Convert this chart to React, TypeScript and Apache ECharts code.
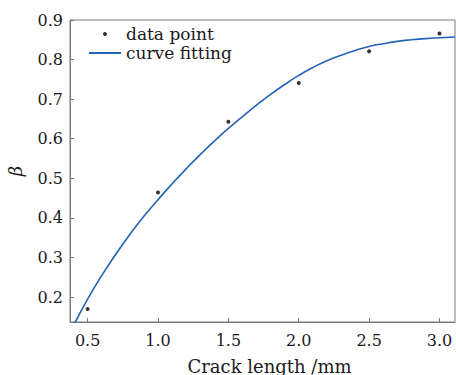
import React, { useEffect, useRef } from "react";
import * as echarts from "echarts";

// Measured data points
const pointX = [0.5, 1.0, 1.5, 2.0, 2.5, 3.0];
const pointY = [0.17, 0.464, 0.643, 0.741, 0.821, 0.866];

// Fitted curve
const curveX = [0.4, 0.5, 0.6, 0.7, 0.8, 0.9, 1.0, 1.1, 1.2, 1.3, 1.4, 1.5, 1.6, 1.7, 1.8, 1.9, 2.0, 2.1, 2.2, 2.3, 2.4, 2.5, 2.6, 2.7, 2.8, 2.9, 3.0, 3.11];
const curveY = [0.128, 0.195, 0.254, 0.308, 0.358, 0.404, 0.446, 0.486, 0.524, 0.56, 0.594, 0.626, 0.656, 0.685, 0.712, 0.737, 0.76, 0.78, 0.797, 0.811, 0.823, 0.833, 0.84, 0.846, 0.85, 0.853, 0.855, 0.857];

const seriesNames = ["data point", "curve fitting"];
const xAxisTitle = "Crack length /mm";
const yAxisTitle = "β";

const FONT = "DejaVu Serif";
const AXIS_COLOR = "#7a7a7a";
const TEXT_COLOR = "#1a1a1a";
const CURVE_COLOR = "#2462b8";

export default function App() {
  const ref = useRef<HTMLDivElement>(null);
  useEffect(() => {
    if (!ref.current) return;
    const chart = echarts.init(ref.current, undefined, { renderer: "svg" });
    chart.setOption({
      animation: false,
      backgroundColor: "#ffffff",
      grid: {
        left: 70,
        top: 20,
        right: 1,
        bottom: 53,
        outerBoundsMode: "none",
        containLabel: false,
        show: true,
        borderColor: AXIS_COLOR,
        borderWidth: 1,
        backgroundColor: "transparent",
      },
      legend: {
        orient: "vertical",
        left: 88,
        top: 25,
        padding: 0,
        itemWidth: 32,
        itemHeight: 4,
        itemGap: 1,
        textStyle: { fontFamily: FONT, fontSize: 17, color: TEXT_COLOR, lineHeight: 18 },
        data: [
          { name: seriesNames[0] },
          { name: seriesNames[1], itemStyle: { opacity: 0 } },
        ],
      },
      xAxis: {
        type: "value",
        min: 0.375,
        max: 3.11,
        splitNumber: 6,
        name: xAxisTitle,
        nameLocation: "middle",
        nameGap: 35,
        nameTextStyle: { fontFamily: FONT, fontSize: 18, color: TEXT_COLOR, padding: [0, 0, 0, 14] },
        axisLine: { show: true, lineStyle: { color: AXIS_COLOR, width: 1 } },
        axisTick: { show: true, inside: true, length: 4, lineStyle: { color: AXIS_COLOR } },
        axisLabel: {
          margin: 10,
          fontFamily: FONT,
          fontSize: 16,
          color: TEXT_COLOR,
          showMinLabel: false,
          showMaxLabel: false,
          formatter: (v: number) => v.toFixed(1),
        },
        splitLine: { show: false },
      },
      yAxis: {
        type: "value",
        min: 0.137,
        max: 0.9,
        splitNumber: 8,
        name: yAxisTitle,
        nameLocation: "middle",
        nameGap: 46,
        nameRotate: 90,
        nameTextStyle: { fontFamily: FONT, fontSize: 18, fontStyle: "italic", color: TEXT_COLOR },
        axisLine: { show: true, lineStyle: { color: AXIS_COLOR, width: 1 } },
        axisTick: { show: true, inside: true, length: 4, lineStyle: { color: AXIS_COLOR } },
        axisLabel: {
          margin: 7,
          fontFamily: FONT,
          fontSize: 16,
          color: TEXT_COLOR,
          showMinLabel: false,
          formatter: (v: number) => v.toFixed(1),
        },
        splitLine: { show: false },
      },
      series: [
        {
          name: seriesNames[0],
          type: "scatter",
          symbol: "circle",
          symbolSize: 4,
          itemStyle: { color: "#000000" },
          data: pointX.map((x, i) => [x, pointY[i]]),
          z: 3,
        },
        {
          name: seriesNames[1],
          type: "line",
          smooth: true,
          showSymbol: false,
          symbol: "none",
          clip: true,
          lineStyle: { color: CURVE_COLOR, width: 1.6 },
          itemStyle: { color: CURVE_COLOR },
          data: curveX.map((x, i) => [x, curveY[i]]),
          z: 2,
        },
      ],
    });
    return () => chart.dispose();
  }, []);
  return (
    <div
      ref={ref}
      style={{ position: "fixed", left: 0, top: 0, width: 456, height: 375 }}
    />
  );
}
